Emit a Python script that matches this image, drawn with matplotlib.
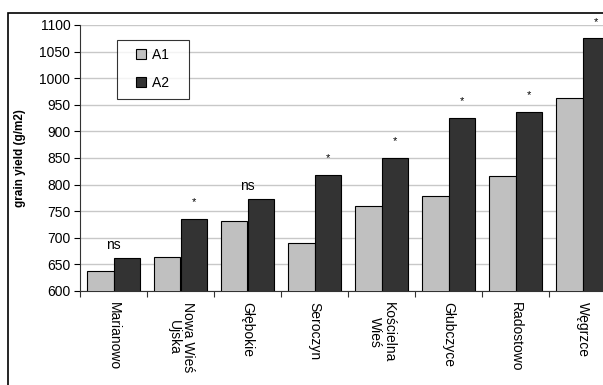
import numpy as np
import matplotlib.pyplot as plt
from matplotlib.patches import Rectangle
from matplotlib.lines import Line2D

plt.rcParams['font.family'] = ['Liberation Sans', 'DejaVu Sans']

# sites and grain yield values
sites = ["Marianowo", "Nowa Wieś\nUjska", "Głębokie", "Seroczyn",
         "Kościelna\nWieś", "Głubczyce", "Radostowo", "Węgrzce"]
a1 = [638, 664, 731, 690, 760, 778, 816, 963]
a2 = [662, 735, 772, 818, 850, 926, 937, 1075]
signif = ["ns", "*", "ns", "*", "*", "*", "*", "*"]

fig = plt.figure(figsize=(6.03, 3.85), dpi=100)
ax = fig.add_axes([80 / 603, 1 - 291 / 385, 536 / 603, 266 / 385])

# outer frame of the chart area
fig.patches.append(Rectangle((8 / 603, -0.1), 1.2, 1 - 13 / 385 + 0.1,
                             transform=fig.transFigure, fill=False,
                             edgecolor="black", linewidth=1.2))

x = np.arange(len(sites))
w = 0.4
ax.bar(x - w / 2, a1, w, color="#c0c0c0", edgecolor="black", linewidth=0.8,
       zorder=3)
ax.bar(x + w / 2, a2, w, color="#333333", edgecolor="black", linewidth=0.8,
       zorder=3)

for i, s in enumerate(signif):
    if s == "ns":
        ax.text(x[i], a2[i] + 12, s, ha="center", va="bottom", fontsize=10)
    else:
        ax.text(x[i] + w / 2, a2[i] + 22, s, ha="center", va="bottom",
                fontsize=8, clip_on=False)

ax.set_xlim(-0.5, len(sites) - 0.5)
ax.set_ylim(600, 1100)
ax.set_yticks(np.arange(600, 1101, 50))
ax.yaxis.grid(True, color="#c8c8c8", linewidth=1, zorder=0)
ax.set_axisbelow(True)

ax.set_xticks(np.arange(len(sites) + 1) - 0.5)
ax.set_xticklabels([])
ax.set_xticks(x, minor=True)
ax.set_xticklabels(sites, minor=True, rotation=270, fontsize=10,
                   va="top", ha="center", linespacing=1.0)
ax.tick_params(axis="x", which="minor", length=0, pad=8)
ax.tick_params(axis="x", which="major", length=4, direction="out", color="#333333")
ax.tick_params(axis="y", length=4, direction="out", labelsize=10, pad=3)

for sp in ["top", "right"]:
    ax.spines[sp].set_visible(False)
ax.spines["left"].set_color("#333333")
ax.spines["bottom"].set_color("#333333")

ax.set_ylabel("grain yield (g/m2)", fontsize=8.5, fontweight="bold", labelpad=10)

handles = [Line2D([], [], marker="s", linestyle="none", markersize=6.5,
                  markerfacecolor="#c0c0c0", markeredgecolor="black", markeredgewidth=0.8),
           Line2D([], [], marker="s", linestyle="none", markersize=6.5,
                  markerfacecolor="#333333", markeredgecolor="black", markeredgewidth=0.8)]
leg = ax.legend(handles, ["A1   ", "A2   "], loc="upper left",
                bbox_to_anchor=((117 - 80) / 536, 1 - (40 - 25) / 266),
                fontsize=10, frameon=True, fancybox=False, edgecolor="black",
                handlelength=2.3, borderpad=0.6, labelspacing=1.0,
                handletextpad=-0.4, borderaxespad=0)
leg.get_frame().set_linewidth(0.8)

fig.savefig("out.png", dpi=100)
